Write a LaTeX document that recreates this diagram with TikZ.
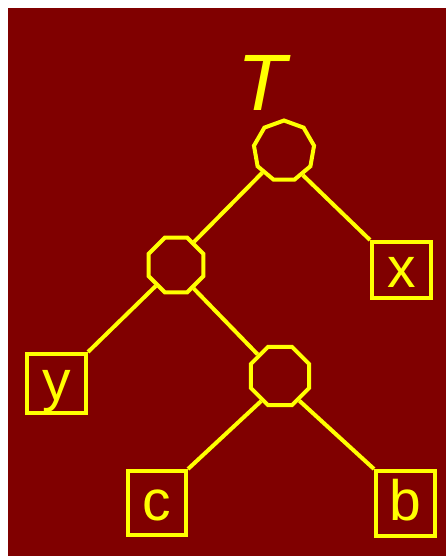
\documentclass[tikz,border=0pt]{standalone}
\usepackage{fontspec}
\setmainfont{Liberation Sans}
\usetikzlibrary{shapes.geometric}
\definecolor{treebg}{RGB}{128,0,0}
\definecolor{treeyellow}{RGB}{255,255,0}
\begin{document}
\begin{tikzpicture}[x=1pt, y=-1pt, line width=4pt,
		branch/.style={draw=treeyellow, regular polygon, inner sep=0pt},
		leafbox/.style={draw=treeyellow, rectangle, inner sep=0pt, text=treeyellow,
			font=\fontsize{57}{57}\selectfont, text height=45pt, text depth=11pt,
			minimum width=59pt},
		link/.style={draw=treeyellow}]
		\useasboundingbox (0,0) rectangle (446,556);
		\fill[treebg] (8,8) rectangle (446,556);
		\node[text=treeyellow, font=\fontsize{80}{80}\selectfont\itshape, anchor=base] (title) at (262,111) {T};
		% inner nodes
		\node[branch, regular polygon sides=9, minimum size=61pt] (root) at (284,151) {};
		\node[branch, regular polygon sides=8, minimum size=59pt] (left) at (176,265) {};
		\node[branch, regular polygon sides=8, minimum size=63pt] (right) at (280,376) {};
		% leaves
		\node[leafbox, minimum height=54pt] (x) at (401.5,270) {x};
		\node[leafbox, minimum height=59pt] (y) at (56.5,383.5) {y};
		\node[leafbox, minimum width=58pt, minimum height=64pt] (c) at (157,503) {c};
		\node[leafbox, minimum height=65pt] (b) at (405.5,503.5) {b};
		% edges
		\draw[link] (root.225) -- (left.52);
		\draw[link] (root.308) -- (x.north west);
		\draw[link] (left.226) -- (y.north east);
		\draw[link] (left.307) -- (right.136);
		\draw[link] (right.233) -- (c.north east);
		\draw[link] (right.308) -- (b.north west);
	\end{tikzpicture}
\end{document}
